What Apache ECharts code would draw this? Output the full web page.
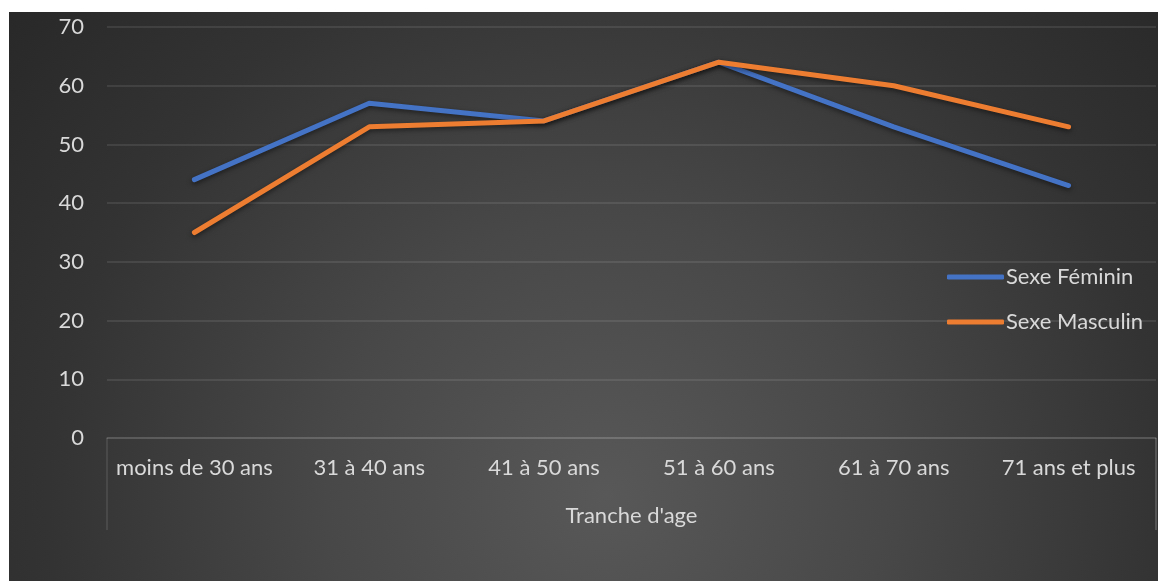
<!DOCTYPE html>
<html>
<head>
<meta charset="utf-8">
<script src="https://cdn.jsdelivr.net/npm/echarts@6/dist/echarts.min.js"></script>
<style>
  html, body { margin: 0; padding: 0; background: #ffffff; }
  #chart { position: absolute; left: 9px; top: 12px; width: 1149px; height: 569px; }
</style>
</head>
<body>
<div id="chart"></div>
<script>
// Age brackets and response counts per sex
const categories = ['moins de 30 ans', '31 à 40 ans', '41 à 50 ans', '51 à 60 ans', '61 à 70 ans', '71 ans et plus'];
const feminin = [44, 57, 54, 64, 53, 43];
const masculin = [35, 53, 54, 64, 60, 53];
const seriesNames = ['Sexe Féminin', 'Sexe Masculin'];
const axisTitle = "Tranche d'age";

const FONT = 'Lato';
const FS = 22;
const TEXT = '#d9d9d9';
const GRID = 'rgba(255,255,255,0.12)';
const TICK_LEN = 92;

const lineSeries = (name, data, color) => ({
  name: name,
  type: 'line',
  data: data,
  showSymbol: false,
  symbol: 'none',
  color: color,
  lineStyle: {
    width: 5,
    color: color,
    cap: 'round',
    join: 'round',
    shadowColor: 'rgba(0,0,0,0.5)',
    shadowBlur: 5,
    shadowOffsetY: 2
  },
  emphasis: { disabled: true }
});

const chart = echarts.init(document.getElementById('chart'), null, { renderer: 'canvas' });
chart.setOption({
  animation: false,
  backgroundColor: {
    type: 'radial', x: 0.52, y: 0.85, r: 1.4,
    colorStops: [
      { offset: 0, color: '#585858' },
      { offset: 0.35, color: '#484848' },
      { offset: 0.7, color: '#333333' },
      { offset: 1, color: '#272727' }
    ]
  },
  textStyle: { fontFamily: FONT },
  grid: { left: 98, right: 2, top: 15, bottom: 143, containLabel: false },
  legend: {
    orient: 'vertical',
    left: 938,
    top: 254,
    padding: 0,
    itemWidth: 57,
    itemHeight: 5,
    itemGap: 23,
    icon: 'roundRect',
    textStyle: { color: TEXT, fontSize: FS, fontFamily: FONT, lineHeight: 22, padding: [0, 0, 0, -3] },
    data: seriesNames
  },
  xAxis: {
    type: 'category',
    data: categories,
    boundaryGap: true,
    axisLine: { show: true, lineStyle: { color: GRID, width: 1.5 } },
    axisTick: { show: true, length: TICK_LEN, interval: (i) => i === 0, lineStyle: { color: GRID, width: 1.5 } },
    axisLabel: { color: TEXT, fontSize: FS, fontFamily: FONT, margin: 19, interval: 0 },
    splitLine: { show: false },
    name: axisTitle,
    nameLocation: 'middle',
    nameGap: 67,
    nameTextStyle: { color: TEXT, fontSize: FS, fontFamily: FONT }
  },
  yAxis: {
    type: 'value',
    min: 0,
    max: 70,
    interval: 10,
    axisLine: { show: false },
    axisTick: { show: false },
    axisLabel: { color: TEXT, fontSize: FS, fontFamily: FONT, margin: 23 },
    splitLine: { show: true, lineStyle: { color: GRID, width: 1.5 } }
  },
  series: [
    lineSeries(seriesNames[0], feminin, '#4472C4'),
    lineSeries(seriesNames[1], masculin, '#ED7D31')
  ]
});

// Closing edge line under the last category, placed from the axis scale
const lastCenter = chart.convertToPixel({ xAxisIndex: 0 }, categories[categories.length - 1]);
const prevCenter = chart.convertToPixel({ xAxisIndex: 0 }, categories[categories.length - 2]);
const edgeX = lastCenter + (lastCenter - prevCenter) / 2;
const baseY = chart.convertToPixel({ yAxisIndex: 0 }, 0);
chart.setOption({
  graphic: [{
    type: 'line',
    shape: { x1: edgeX, y1: baseY, x2: edgeX, y2: baseY + TICK_LEN },
    style: { stroke: GRID, lineWidth: 1.5 },
    silent: true
  }]
});
</script>
</body>
</html>
